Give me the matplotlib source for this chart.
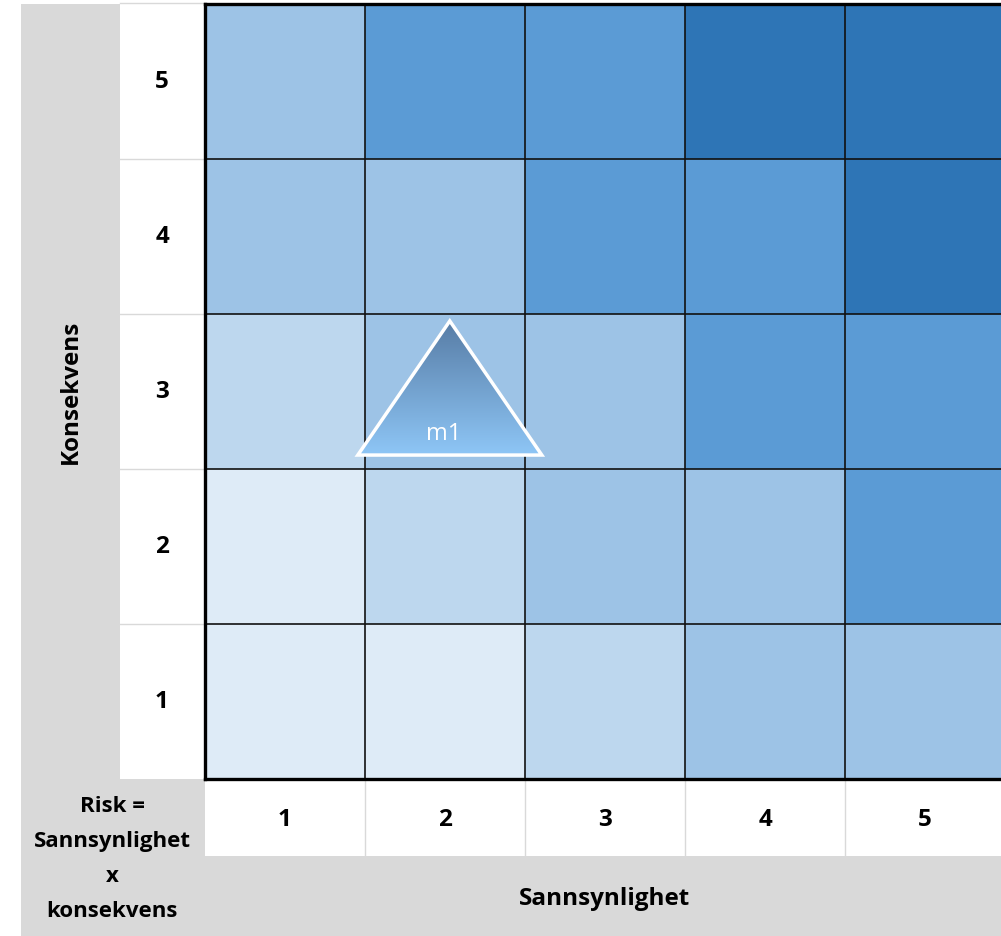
import numpy as np
import matplotlib.pyplot as plt
from matplotlib.patches import Rectangle, Polygon
from matplotlib.colors import LinearSegmentedColormap
from matplotlib.transforms import blended_transform_factory

# risk matrix: rows = konsekvens 1..5, columns = sannsynlighet 1..5
sannsynlighet = [1, 2, 3, 4, 5]
konsekvens = [1, 2, 3, 4, 5]
# colour level of each cell (0 = lightest, 4 = darkest), row index = konsekvens - 1
levels = [
    [0, 0, 1, 2, 2],
    [0, 1, 2, 2, 3],
    [1, 2, 2, 3, 3],
    [2, 2, 3, 3, 4],
    [2, 3, 3, 4, 4],
]
level_colors = ["#deebf7", "#bdd7ee", "#9dc3e6", "#5b9bd5", "#2e75b6"]

# measures placed in the matrix
measure_names = ["m1"]
measure_p = [2]
measure_k = [3]

x_title = "Sannsynlighet"
y_title = "Konsekvens"
corner_text = "Risk =\nSannsynlighet\nx\nkonsekvens"

plt.rcParams["font.family"] = ["Open Sans", "DejaVu Sans"]

W, H = 1001, 937
fig = plt.figure(figsize=(W / 100, H / 100), dpi=100)

# background axes in pixel units for the header panels
bg = fig.add_axes([0, 0, 1, 1])
bg.set_xlim(0, W)
bg.set_ylim(H, 0)
bg.axis("off")

grey = "#d9d9d9"
bg.add_patch(Rectangle((21, 5), 184, 932, color=grey, lw=0))
bg.add_patch(Rectangle((205, 857), 800, 80, color=grey, lw=0))
bg.add_patch(Rectangle((120, 4), 85, 776, color="white", lw=0))
bg.add_patch(Rectangle((205, 780), 800, 77, color="white", lw=0))

# main grid axes
gx0, gx1, gy0, gy1 = 205, 1005, 5, 780
ax = fig.add_axes([gx0 / W, (H - gy1) / H, (gx1 - gx0) / W, (gy1 - gy0) / H])
ax.set_xlim(0.5, 5.5)
ax.set_ylim(0.5, 5.5)

lv = np.array(levels)
for i, k in enumerate(konsekvens):
    for j, p in enumerate(sannsynlighet):
        ax.add_patch(Rectangle((p - 0.5, k - 0.5), 1, 1,
                               facecolor=level_colors[lv[i, j]],
                               edgecolor="none"))

for v in np.arange(1.5, 5.5, 1):
    ax.axvline(v, color="#111111", lw=1.2)
    ax.axhline(v, color="#111111", lw=1.2)

ax.spines["right"].set_visible(False)
for side in ["left", "top", "bottom"]:
    ax.spines[side].set_linewidth(2.4)
    ax.spines[side].set_color("black")
ax.set_xticks([])
ax.set_yticks([])

# light separators in the label column and label row
for v in np.arange(1.5, 5.5, 1):
    y_px = gy0 + (5.5 - v) * (gy1 - gy0) / 5
    bg.plot([120, 205], [y_px, y_px], color="#d9d9d9", lw=1)
    x_px = gx0 + (v - 0.5) * (gx1 - gx0) / 5
    bg.plot([x_px, x_px], [780, 857], color="#d9d9d9", lw=1)
bg.plot([120, 205], [4, 4], color="#d9d9d9", lw=1)

# row and column labels
row_tr = blended_transform_factory(bg.transData, ax.transData)
col_tr = blended_transform_factory(ax.transData, bg.transData)
for k in konsekvens:
    bg.text(162, k, str(k), transform=row_tr, ha="center", va="center",
            fontsize=17.5, fontweight="bold")
for p in sannsynlighet:
    bg.text(p, 820, str(p), transform=col_tr, ha="center", va="center",
            fontsize=17.5, fontweight="bold")

bg.text(71, 392, y_title, rotation=90, ha="center", va="center",
        fontsize=17.5, fontweight="bold")
bg.text(605, 899, x_title, ha="center", va="center",
        fontsize=17.5, fontweight="bold")
bg.text(112, 859, corner_text, ha="center", va="center",
        fontsize=16, fontweight="bold", linespacing=1.88)

# measure markers: triangle with vertical gradient
tri_half_w, tri_top, tri_bottom = 0.575, 0.455, -0.41
grad = np.linspace(0, 1, 256).reshape(-1, 1)
tri_cmap = LinearSegmentedColormap.from_list("tri", ["#8ec6f6", "#577ca5"])
for name, p, k in zip(measure_names, measure_p, measure_k):
    cx = p + 0.03
    verts = [(cx - tri_half_w, k + tri_bottom), (cx, k + tri_top),
             (cx + tri_half_w, k + tri_bottom)]
    im = ax.imshow(grad, cmap=tri_cmap, origin="lower", aspect="auto",
                   extent=[cx - tri_half_w, cx + tri_half_w, k + tri_bottom, k + tri_top],
                   zorder=3)
    im.set_clip_path(Polygon(verts, closed=True, transform=ax.transData))
    ax.add_patch(Polygon(verts, closed=True, facecolor="none", edgecolor="white",
                         lw=2.5, zorder=4))
    ax.text(p - 0.01, k - 0.265, name, color="white", ha="center", va="center",
            fontsize=17, zorder=5)

ax.set_xlim(0.5, 5.5)
ax.set_ylim(0.5, 5.5)

fig.savefig("out.png", dpi=100)
